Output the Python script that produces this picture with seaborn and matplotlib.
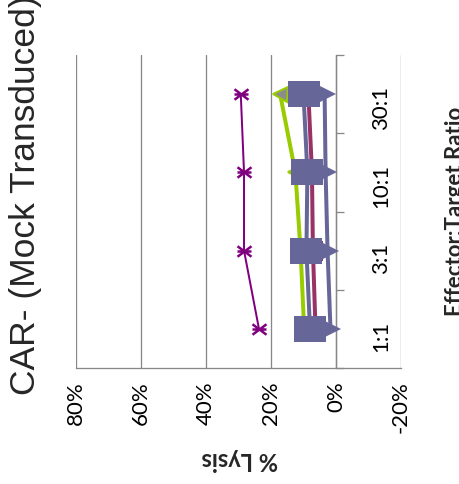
import numpy as np
import matplotlib
matplotlib.use("Agg")
import matplotlib.pyplot as plt
from matplotlib.path import Path
import seaborn as sns

# Effector:Target ratios (category axis) and % lysis values per series
ratios = ["1:1", "3:1", "10:1", "30:1"]
lysis_ticks = [80, 60, 40, 20, 0, -20]

plum_vals = [6.3, 7.1, 7.4, 8.5]
lime_vals = [9.8, 10.9, 12.5, 17.2]
bluegray_tri_vals = [1.7, 2.6, 3.2, 3.5]
bluegray_sq_vals = [8.0, 9.1, 8.8, 10.0]
purple_vals = [23.7, 28.3, 28.3, 29.3]

sns.set_style("white")
plt.rcParams["font.family"] = ["Lato", "DejaVu Sans"]

GRID = "#878787"
PT = 72 / 100  # points per pixel at dpi=100

fig = plt.figure(figsize=(4.59, 4.84), dpi=100)
ax = fig.add_axes([76 / 459, 1 - 368 / 484, (401 - 76) / 459, (368 - 55) / 484])

pos = np.arange(len(ratios)) + 0.5

# custom markers
rect = Path([(-1.24, -1), (1.24, -1), (1.24, 1), (-1.24, 1), (-1.24, -1)],
            [Path.MOVETO, Path.LINETO, Path.LINETO, Path.LINETO, Path.CLOSEPOLY])
star = Path([(-1, -0.75), (1, 0.75), (-1, 0.75), (1, -0.75), (-1, 0), (1, 0)],
            [Path.MOVETO, Path.LINETO, Path.MOVETO, Path.LINETO, Path.MOVETO, Path.LINETO])

common = dict(ax=ax, sort=False, orient="y", estimator=None, legend=False)

sns.lineplot(x=lime_vals, y=pos, color="#99CC00", linewidth=4 * PT,
             marker="<", markersize=15 * PT, markerfacecolor="#8C8C8C",
             markeredgecolor="#99CC00", markeredgewidth=2 * PT, zorder=3, **common)
sns.lineplot(x=plum_vals, y=pos, color="#993366", linewidth=4 * PT,
             marker="s", markersize=20 * PT, markerfacecolor="#993366",
             markeredgecolor="#993366", markeredgewidth=0, zorder=4, **common)
sns.lineplot(x=bluegray_tri_vals, y=pos, color="#666699", linewidth=4 * PT,
             marker=">", markersize=23 * PT, markerfacecolor="#666699",
             markeredgecolor="#666699", markeredgewidth=0, zorder=5, **common)
sns.lineplot(x=bluegray_sq_vals, y=pos, color="#666699", linewidth=4 * PT,
             marker=rect, markersize=31 * PT, markerfacecolor="#666699",
             markeredgecolor="#666699", markeredgewidth=0, zorder=6, **common)
sns.lineplot(x=purple_vals, y=pos, color="#800080", linewidth=2 * PT,
             marker=star, markersize=14 * PT, markerfacecolor="none",
             markeredgecolor="#800080", markeredgewidth=2.5 * PT, zorder=7, **common)

# value axis (% lysis), reversed
ax.set_xlim(80, -20)
ax.set_xticks(lysis_ticks)
ax.set_xticklabels([f"{t}%" for t in lysis_ticks])
ax.tick_params(axis="x", direction="out", length=8 * PT, width=1.3 * PT,
               color=GRID, pad=4, labelcolor="black", labelrotation=90,
               labelsize=16)
ax.grid(axis="x", color=GRID, linewidth=1.3 * PT)
ax.grid(axis="y", visible=False)

# category axis crossing at 0%
ax.set_ylim(0, 4)
ax.yaxis.tick_right()
ax.set_yticks(range(len(ratios) + 1))
ax.set_yticklabels([])
ax.set_yticks(pos, minor=True)
ax.set_yticklabels(ratios, minor=True)
ax.tick_params(axis="y", which="major", direction="out", length=8 * PT,
               width=1.3 * PT, color=GRID)
ax.tick_params(axis="y", which="minor", length=0, pad=25, labelcolor="black",
               labelrotation=90, labelsize=16, left=False, right=True,
               labelleft=False, labelright=True)
for t in ax.yaxis.get_minor_ticks():
    t.label2.set_va("center")

for side in ("top", "left"):
    ax.spines[side].set_visible(False)
ax.spines["right"].set_position(("data", 0))
ax.spines["right"].set_color(GRID)
ax.spines["right"].set_linewidth(1.3 * PT)
ax.spines["bottom"].set_color(GRID)
ax.spines["bottom"].set_linewidth(1.3 * PT)
ax.set_xlabel("")
ax.set_ylabel("")

fig.text(26 / 459, 1 - 395 / 484, "CAR- (Mock Transduced)", rotation=90,
         ha="center", va="bottom", fontsize=25.5, family="Liberation Sans")
fig.text(240 / 459, 1 - 460 / 484, "% Lysis", rotation=180, ha="center",
         va="center", fontsize=17, fontweight="bold")
fig.text(445 / 459, 1 - 211 / 484, "Effector:Target Ratio", rotation=90,
         ha="left", va="center", fontsize=16, fontweight="bold")

fig.savefig("out.png", dpi=100)
